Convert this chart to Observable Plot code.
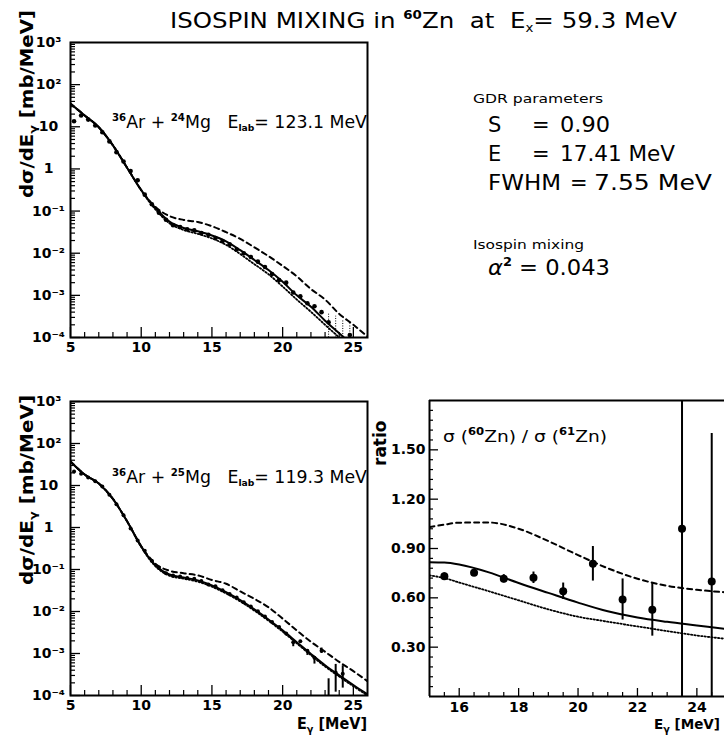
<!DOCTYPE html>
<html><head><meta charset="utf-8">
<script src="https://cdn.jsdelivr.net/npm/d3@7"></script>
<script src="https://cdn.jsdelivr.net/npm/@observablehq/plot@0.6"></script>
<style>
html,body{margin:0;padding:0;background:#fff;overflow:hidden;}
#root{position:relative;width:724px;height:738px;overflow:hidden;font-family:"DejaVu Sans",sans-serif;}
#root svg{position:absolute;}
</style></head><body><div id="root"></div>
<script>
// ---------- data: 36Ar + 24Mg (top) ----------
const topPtsE = [5.25,5.75,6.25,6.75,7.25,7.75,8.25,8.75,9.25,9.75,10.25,10.75,11.25,11.75,12.25,12.75,13.25,13.75,14.25,14.75,15.25,15.75,16.25,16.75,17.25,17.75,18.25,18.75,19.25,19.75,20.25,20.75,21.25,21.75,22.25,22.75,23.25,23.75,24.25,24.75];
const topPtsV = [13.5,18.6,14.8,10.7,7.4,4.5,2.5,1.5,0.89,0.54,0.245,0.145,0.091,0.062,0.046,0.042,0.037,0.035,0.030,0.0275,0.023,0.0195,0.0162,0.0123,0.0100,0.0081,0.0063,0.0047,0.0032,0.0023,0.0020,0.00117,0.00095,0.00065,0.00055,0.00040,0.00023,0.00009,0.00008,0.000115];
const topErrE  = [23.25,23.75,24.25,24.75];
const topErrLo = [0.00005,0.00002,0.00002,0.00002];
const topErrHi = [0.00037,0.00032,0.00026,0.00021];

// ---------- data: 36Ar + 25Mg (bottom) ----------
const botPtsE = [5.25,5.75,6.25,6.75,7.25,7.75,8.25,8.75,9.25,9.75,10.25,10.75,11.25,11.75,12.25,12.75,13.25,13.75,14.25,14.75,15.25,15.75,16.25,16.75,17.25,17.75,18.25,18.75,19.25,19.75,20.25,20.75,21.25,21.75,22.25,22.75,23.25,23.75,24.25];
const botPtsV = [21.5,19,15.5,12.6,9.5,6.0,3.6,1.95,0.95,0.49,0.28,0.162,0.112,0.081,0.072,0.068,0.063,0.060,0.053,0.044,0.040,0.032,0.026,0.0214,0.0166,0.0132,0.0102,0.0076,0.0056,0.0043,0.0030,0.00186,0.00195,0.00117,0.00079,0.00117,0.00006,0.000355,0.00033];
const botErrE  = [20.75,21.75,22.25,22.75,23.25,23.75,24.25];
const botErrLo = [0.00145,0.0009,0.00056,0.0010,0.00001,0.00012,0.00015];
const botErrHi = [0.0020,0.0012,0.0008,0.00135,0.00025,0.00055,0.00051];

// ---------- model curves (spectra) ----------
const curveE    = [5,6,7,8,9,10,10.5,11,12,13,14,15,16,17,18,19,20,21,22,23,24,25,26];
const topSolid  = [35.5,18.6,9.77,3.63,1.07,0.316,0.186,0.118,0.0562,0.0398,0.0331,0.0263,0.0191,0.0118,0.00692,0.00398,0.00209,0.001,0.000537,0.000251,0.000126,0.0000631,0.0000316];
const topDashed = [35.5,18.6,9.77,3.63,1.07,0.316,0.19,0.126,0.0759,0.0617,0.055,0.0437,0.0316,0.0219,0.0138,0.00851,0.00501,0.00282,0.00141,0.000794,0.000363,0.0002,0.000105];
const topDotted = [35.5,18.6,9.77,3.63,1.07,0.309,0.178,0.110,0.0513,0.0355,0.0288,0.0224,0.0158,0.00955,0.0055,0.00316,0.00162,0.000794,0.000407,0.0002,0.0001,0.0000501,0.0000251];
const botSolid  = [37.2,18.2,11.2,4.79,1.41,0.355,0.2,0.126,0.0759,0.0646,0.055,0.0417,0.0288,0.0186,0.0112,0.00646,0.00355,0.00186,0.000977,0.000525,0.000302,0.000178,0.000107];
const botDashed = [37.2,18.2,11.2,4.79,1.41,0.355,0.209,0.138,0.0933,0.0813,0.0724,0.0562,0.0457,0.0302,0.02,0.0126,0.00676,0.00355,0.0019,0.0011,0.000631,0.00038,0.000219];
const botDotted = [37.2,18.2,11.2,4.79,1.41,0.347,0.191,0.12,0.0708,0.0603,0.0513,0.0389,0.0269,0.0174,0.0105,0.00603,0.00331,0.00174,0.000912,0.00049,0.000282,0.000166,0.0001];

// ---------- ratio sigma(60Zn)/sigma(61Zn) ----------
const ratioE   = [15.5,16.5,17.5,18.5,19.5,20.5,21.5,22.5,23.5,24.5];
const ratioV   = [0.732,0.752,0.716,0.722,0.64,0.807,0.59,0.527,1.02,0.70];
const ratioErr = [0.02,0.015,0.025,0.035,0.05,0.105,0.125,0.16,1.2,0.9];
const ratioCurveE  = [15,15.5,16,17,18,19,20,21,22,23,24,25,26];
const ratioSolid   = [0.817,0.815,0.803,0.755,0.69,0.63,0.571,0.518,0.48,0.454,0.432,0.41,0.39];
const ratioDashed  = [1.03,1.045,1.057,1.058,1.02,0.945,0.86,0.78,0.716,0.673,0.649,0.633,0.62];
const ratioDotted  = [0.736,0.72,0.693,0.64,0.585,0.53,0.485,0.455,0.426,0.398,0.371,0.35,0.33];

// ---------- ticks ----------
const logTickValues = [1e-4,1e-3,1e-2,1e-1,1,10,100,1000];
const logTickLabels = ["10⁻⁴","10⁻³","10⁻²","10⁻¹","1","10","10²","10³"];
const xTickValues = [5,10,15,20,25];
const ratioXTicks = [16,18,20,22,24];
const ratioYTicks = [0.3,0.6,0.9,1.2,1.5];
const ratioYLabels = ["0.30","0.60","0.90","1.20","1.50"];

// ---------- build ----------
const rows = (xs, ys) => xs.map((x, i) => ({E: x, v: ys[i]}));
const errRows = (xs, lo, hi) => xs.map((x, i) => ({E: x, lo: lo[i], hi: hi[i]}));
const logLabel = new Map(logTickValues.map((v, i) => [v, logTickLabels[i]]));
const ratioLabel = new Map(ratioYTicks.map((v, i) => [v, ratioYLabels[i]]));
const logMinor = [];
for (const p of [1e-4,1e-3,1e-2,1e-1,1,10,100]) for (let k = 2; k <= 9; k++) logMinor.push(p * k);
const xMinor = d3.range(6, 26, 1).filter(d => d % 5 !== 0);

const plotStyle = {fontFamily: "DejaVu Sans, sans-serif", fontSize: "14px", fontWeight: "bold", color: "black", background: "transparent", overflow: "visible"};

function logPanel(o) {
  return Plot.plot({
    width: 380, height: o.height, marginLeft: 70, marginRight: 13, marginTop: o.marginTop, marginBottom: o.marginBottom,
    style: plotStyle,
    x: {domain: [5, 26], label: null},
    y: {type: "log", domain: [1e-4, 1e3], label: null},
    marks: [
      Plot.axisX(xTickValues, {tickSize: -10, tickPadding: 15, tickFormat: d => String(d), label: null, strokeWidth: 1.3}),
      Plot.axisX(xMinor, {tickSize: -5, tickFormat: () => "", label: null, strokeWidth: 1.2}),
      Plot.axisY(logTickValues, {tickSize: -10, tickPadding: 32, textAnchor: "middle", tickFormat: d => logLabel.get(d), label: null, strokeWidth: 1.3}),
      Plot.axisY(logMinor, {tickSize: -5, tickFormat: () => "", label: null, strokeWidth: 1.2}),
      Plot.line(o.dotted, {x: "E", y: "v", stroke: "black", strokeWidth: 1.8, strokeDasharray: "1.4,2", curve: "monotone-x", clip: true}),
      Plot.line(o.dashed, {x: "E", y: "v", stroke: "black", strokeWidth: 2, strokeDasharray: "5,4", curve: "monotone-x", clip: true}),
      Plot.line(o.solid, {x: "E", y: "v", stroke: "black", strokeWidth: 2, curve: "monotone-x", clip: true}),
      Plot.ruleX(o.errs, {x: "E", y1: "lo", y2: "hi", stroke: "black", strokeWidth: o.errWidth, strokeDasharray: o.errDash, clip: true}),
      Plot.dot(o.pts, {x: "E", y: "v", r: o.r, fill: "black", stroke: "none", clip: true}),
      Plot.frame({stroke: "black", strokeWidth: 2})
    ]
  });
}

const root = document.getElementById("root");

const topPanel = logPanel({height: 360, marginTop: 42, marginBottom: 23,
  pts: rows(topPtsE, topPtsV), errs: errRows(topErrE, topErrLo, topErrHi), errDash: "1,1.5", errWidth: 1,
  solid: rows(curveE, topSolid), dashed: rows(curveE, topDashed), dotted: rows(curveE, topDotted), r: 2.3});
topPanel.style.left = "0px"; topPanel.style.top = "0px";
root.appendChild(topPanel);

const botPanel = logPanel({height: 358, marginTop: 21, marginBottom: 43,
  pts: rows(botPtsE, botPtsV), errs: errRows(botErrE, botErrLo, botErrHi), errDash: null, errWidth: 2,
  solid: rows(curveE, botSolid), dashed: rows(curveE, botDashed), dotted: rows(curveE, botDotted), r: 2});
botPanel.style.left = "0px"; botPanel.style.top = "380px";
root.appendChild(botPanel);

const ratioPts = ratioE.map((e, i) => ({E: e, v: ratioV[i], lo: ratioV[i] - ratioErr[i], hi: ratioV[i] + ratioErr[i]}));
const ratioPanel = Plot.plot({
  width: 344, height: 358, marginLeft: 49, marginRight: 0, marginTop: 20, marginBottom: 42,
  style: plotStyle,
  x: {domain: [15, 24.93], label: null},
  y: {domain: [0, 1.8], label: null},
  marks: [
    Plot.axisX(ratioXTicks, {tickSize: -8, tickPadding: 14, tickFormat: d => String(d), label: null, strokeWidth: 1.3}),
    Plot.axisX(d3.range(15.5, 25, 0.5).filter(d => d % 2 !== 0), {tickSize: -4, tickFormat: () => "", label: null, strokeWidth: 1.2}),
    Plot.axisY(ratioYTicks, {tickSize: -9, tickPadding: 13, tickFormat: d => ratioLabel.get(d), label: null, strokeWidth: 1.3}),
    Plot.axisY(d3.range(0.06, 1.8, 0.06).filter(d => Math.abs(d / 0.3 - Math.round(d / 0.3)) > 1e-6), {tickSize: -4, tickFormat: () => "", label: null, strokeWidth: 1.2}),
    Plot.line(rows(ratioCurveE, ratioDotted), {x: "E", y: "v", stroke: "black", strokeWidth: 1.8, strokeDasharray: "1.4,2", curve: "monotone-x", clip: true}),
    Plot.line(rows(ratioCurveE, ratioDashed), {x: "E", y: "v", stroke: "black", strokeWidth: 2, strokeDasharray: "5,4", curve: "monotone-x", clip: true}),
    Plot.line(rows(ratioCurveE, ratioSolid), {x: "E", y: "v", stroke: "black", strokeWidth: 2, curve: "monotone-x", clip: true}),
    Plot.ruleX(ratioPts, {x: "E", y1: "lo", y2: "hi", stroke: "black", strokeWidth: 2, clip: true}),
    Plot.dot(ratioPts, {x: "E", y: "v", r: 4, fill: "black", stroke: "none"}),
    Plot.ruleX([15], {stroke: "black", strokeWidth: 2}),
    Plot.ruleY([0, 1.8], {stroke: "black", strokeWidth: 2})
  ]
});
ratioPanel.style.left = "380px"; ratioPanel.style.top = "380px";
root.appendChild(ratioPanel);

// ---------- text annotations ----------
const overlay = `
<svg width="724" height="738" style="left:0;top:0;pointer-events:none" font-family="DejaVu Sans, sans-serif" fill="black">
 <text x="170" y="28" font-size="22" textLength="507" lengthAdjust="spacingAndGlyphs" style="white-space:pre">ISOSPIN MIXING in <tspan font-size="12" font-weight="bold" dy="-9">60</tspan><tspan dy="9">Zn  at  E</tspan><tspan font-size="12" dy="4">x</tspan><tspan dy="-4">= 59.3 MeV</tspan></text>

 <text transform="translate(33,198) rotate(-90)" font-size="17" font-weight="bold" textLength="188" lengthAdjust="spacingAndGlyphs">dσ/dE<tspan font-size="11" dy="4">γ</tspan><tspan dy="-4"> [mb/MeV]</tspan></text>
 <text transform="translate(33,585) rotate(-90)" font-size="17" font-weight="bold" textLength="190" lengthAdjust="spacingAndGlyphs">dσ/dE<tspan font-size="11" dy="4">γ</tspan><tspan dy="-4"> [mb/MeV]</tspan></text>
 <text transform="translate(386,466) rotate(-90)" font-size="17" font-weight="bold">ratio</text>

 <text x="367" y="729" text-anchor="end" font-size="15" font-weight="bold" textLength="70" lengthAdjust="spacingAndGlyphs">E<tspan font-size="10" dy="4">γ</tspan><tspan dy="-4"> [MeV]</tspan></text>
 <text x="720" y="729" text-anchor="end" font-size="14" font-weight="bold" textLength="66" lengthAdjust="spacingAndGlyphs">E<tspan font-size="10" dy="4">γ</tspan><tspan dy="-4"> [MeV]</tspan></text>

 <text x="112" y="128" font-size="17" textLength="255" lengthAdjust="spacingAndGlyphs" style="white-space:pre"><tspan font-size="10" font-weight="bold" dy="-7">36</tspan><tspan dy="7">Ar + </tspan><tspan font-size="10" font-weight="bold" dy="-7">24</tspan><tspan dy="7">Mg   E</tspan><tspan font-size="9" font-weight="bold" dy="3">lab</tspan><tspan dy="-3">= 123.1 MeV</tspan></text>
 <text x="112" y="483" font-size="17" textLength="255" lengthAdjust="spacingAndGlyphs" style="white-space:pre"><tspan font-size="10" font-weight="bold" dy="-7">36</tspan><tspan dy="7">Ar + </tspan><tspan font-size="10" font-weight="bold" dy="-7">25</tspan><tspan dy="7">Mg   E</tspan><tspan font-size="9" font-weight="bold" dy="3">lab</tspan><tspan dy="-3">= 119.3 MeV</tspan></text>

 <text x="473" y="103" font-size="13" textLength="130" lengthAdjust="spacingAndGlyphs">GDR parameters</text>
 <text x="488" y="132" font-size="21">S</text><text x="532" y="132" font-size="21">=</text><text x="560" y="132" font-size="21" textLength="50" lengthAdjust="spacingAndGlyphs">0.90</text>
 <text x="488" y="161" font-size="21">E</text><text x="532" y="161" font-size="21">=</text><text x="560" y="161" font-size="21" textLength="115" lengthAdjust="spacingAndGlyphs">17.41 MeV</text>
 <text x="488" y="190" font-size="21" textLength="73" lengthAdjust="spacingAndGlyphs">FWHM</text><text x="570" y="190" font-size="21">=</text><text x="594" y="190" font-size="21" textLength="118" lengthAdjust="spacingAndGlyphs">7.55 MeV</text>
 <text x="473" y="249" font-size="13" textLength="111" lengthAdjust="spacingAndGlyphs">Isospin mixing</text>
 <text x="488" y="275" font-size="21" textLength="122" lengthAdjust="spacingAndGlyphs" style="white-space:pre"><tspan font-style="italic">α</tspan><tspan font-size="12" font-weight="bold" dy="-9">2</tspan><tspan dy="9"> = 0.043</tspan></text>

 <text x="443" y="442" font-size="16" textLength="164" lengthAdjust="spacingAndGlyphs" style="white-space:pre">σ (<tspan font-size="10" font-weight="bold" dy="-7">60</tspan><tspan dy="7">Zn) / σ (</tspan><tspan font-size="10" font-weight="bold" dy="-7">61</tspan><tspan dy="7">Zn)</tspan></text>
</svg>`;
root.insertAdjacentHTML("beforeend", overlay);
</script></body></html>
